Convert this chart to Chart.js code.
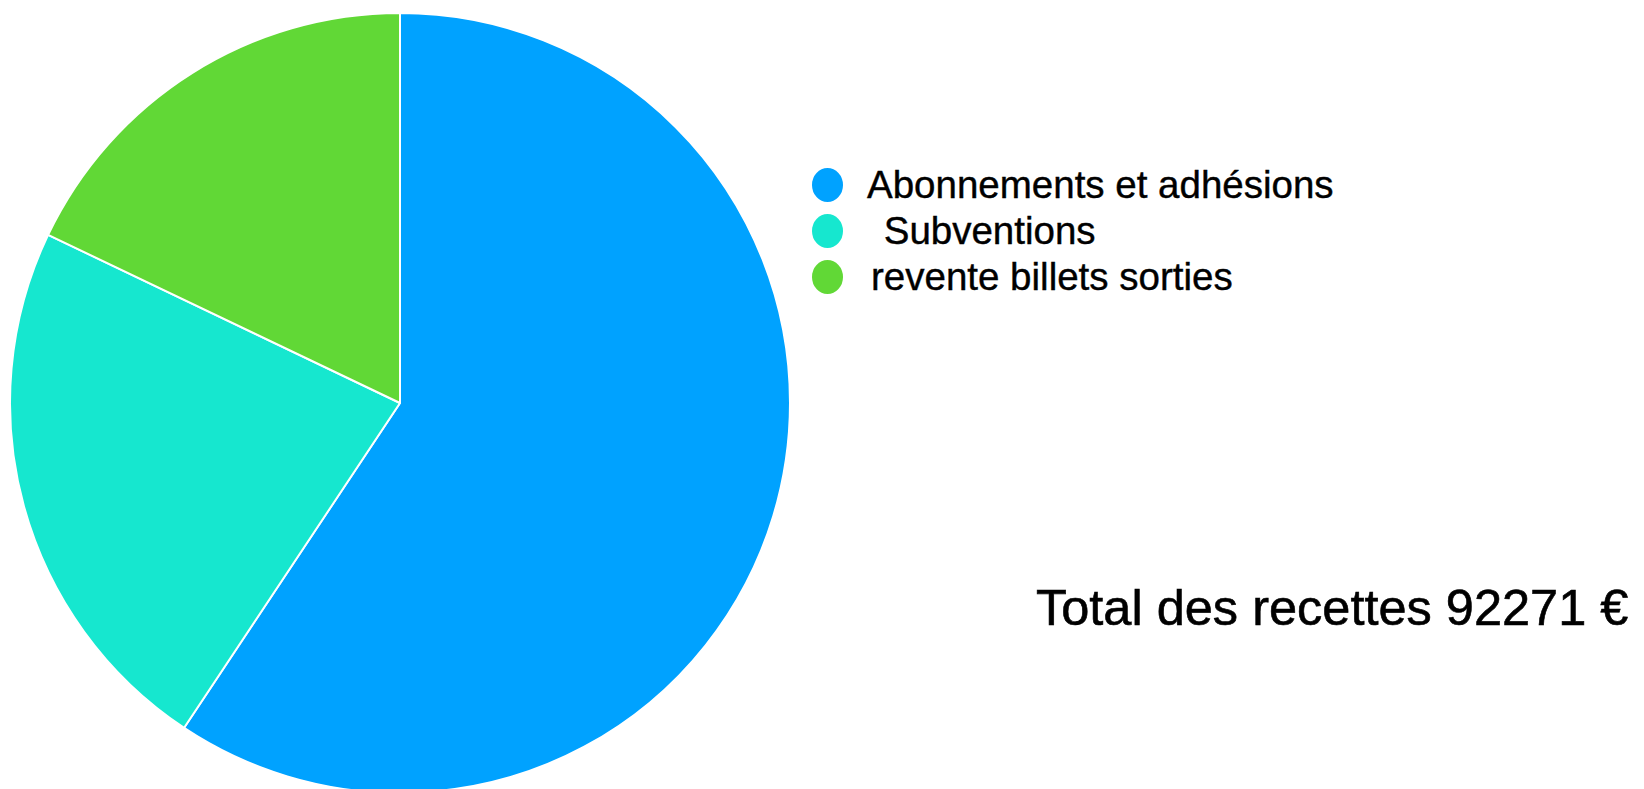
<!DOCTYPE html>
<html>
<head>
<meta charset="utf-8">
<script src="https://cdn.jsdelivr.net/npm/chart.js@4/dist/chart.umd.min.js"></script>
<style>
    html, body { margin: 0; padding: 0; background: #fff; width: 1644px; height: 789px; overflow: hidden; }
    body { position: relative; font-family: "Liberation Sans", Arial, sans-serif; color: #000; }
    #pieBox { position: absolute; left: 9px; top: 12px; width: 782px; height: 782px; }
    #legend { position: absolute; left: 812px; top: 162px; }
    .row { position: relative; height: 46px; }
    .dot { position: absolute; left: 0; top: 6px; width: 31px; height: 34px; border-radius: 50%; }
    .lbl { position: absolute; left: 55px; top: 0; font-size: 38.5px; line-height: 46px; white-space: pre; -webkit-text-stroke: 0.4px #000; }
    .row:nth-child(2) .lbl { left: 61px; }
    .row:nth-child(3) .lbl { left: 59px; }
    #total { position: absolute; left: 1036px; top: 583px; font-size: 50.5px; line-height: 1; white-space: pre; -webkit-text-stroke: 0.6px #000; }
</style>
</head>
<body>
<div id="pieBox"><canvas id="pieChart"></canvas></div>
<div id="legend"></div>
<div id="total"></div>

<script>
const labels = ['Abonnements et adhésions', ' Subventions', 'revente billets sorties'];
const recettes = [54750, 21000, 16521];
const colors = ['#00A2FF', '#16E7CF', '#61D836'];
const totalText = 'Total des recettes 92271 €';

// Legend (built from the same arrays)
const legendEl = document.getElementById('legend');
labels.forEach((l, i) => {
    const row = document.createElement('div');
    row.className = 'row';
    row.innerHTML = '<span class="dot" style="background:' + colors[i] + '"></span><span class="lbl"></span>';
    row.querySelector('.lbl').textContent = l;
    legendEl.appendChild(row);
});
document.getElementById('total').textContent = totalText;

// Pie
const pieCtx = document.getElementById('pieChart').getContext('2d');
new Chart(pieCtx, {
    type: 'pie',
    data: {
        labels: labels,
        datasets: [{
            data: recettes,
            backgroundColor: colors,
            borderColor: '#ffffff',
            borderWidth: 2
        }]
    },
    options: {
        responsive: true,
        maintainAspectRatio: false,
        animation: false,
        plugins: { legend: { display: false }, tooltip: { enabled: false } }
    }
});
</script>
</body>
</html>
